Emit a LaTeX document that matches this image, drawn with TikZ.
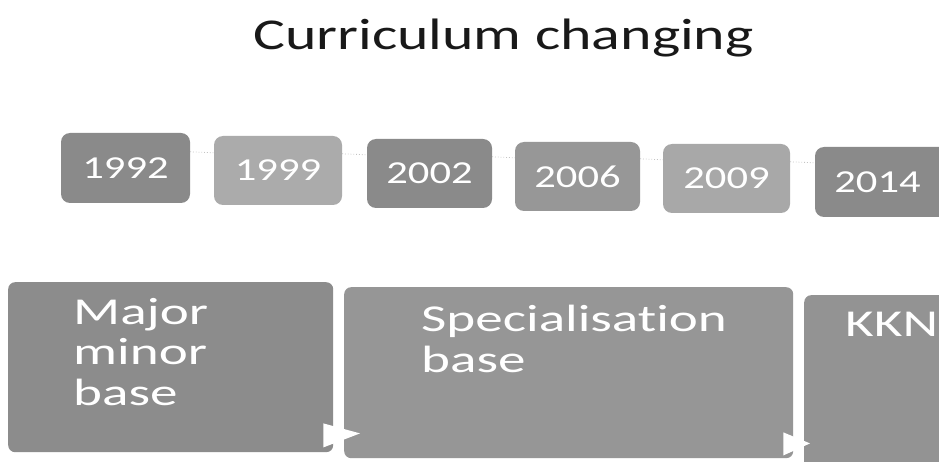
\documentclass[tikz,border=0pt]{standalone}
\usepackage{fontspec}
\setmainfont{Carlito}[Ligatures=CommonOff]
\usepackage{graphicx}
\usetikzlibrary{calc}
\newcommand\widetxt[1]{\scalebox{1.33}[1]{#1}}
\newcommand\widephase[1]{\scalebox{1.45}[1]{#1}}
\definecolor{yeardark}{HTML}{8A8A8A}
\definecolor{yearmid}{HTML}{979797}
\definecolor{yearlight}{HTML}{ABABAB}
\definecolor{phasegray}{HTML}{939393}
\definecolor{linkgray}{HTML}{C4C4C4}
\tikzset{
  yearbox/.style={rounded corners=9pt, inner sep=0pt, text=white, font=\fontsize{32}{36}\selectfont},
  phasebox/.style={rounded corners=7pt, inner sep=0pt, anchor=north west},
  phasetext/.style={text=white, font=\fontsize{38}{40.5}\selectfont, align=left, inner sep=0pt, anchor=north west},
  link/.style={draw=linkgray, dotted, line width=0.8pt},
}
\begin{document}
\begin{tikzpicture}[x=1pt,y=-1pt]
\useasboundingbox (0,0) rectangle (939,462);
\fill[white] (0,0) rectangle (939,462);
% title
\node[font=\fontsize{44}{48}\selectfont, text=black!90, inner sep=0pt] (title) at (503.5,38) {\scalebox{1.36}[1]{Curriculum changing}};
% year boxes
\node[yearbox, fill=yeardark, minimum width=129pt, minimum height=70pt] (y1992) at (125.5,168) {\widetxt{1992}};
\node[yearbox, fill=yearlight, minimum width=128pt, minimum height=69pt] (y1999) at (278,170.5) {\widetxt{1999}};
\node[yearbox, fill=yeardark, minimum width=125pt, minimum height=69pt] (y2002) at (429.5,173.5) {\widetxt{2002}};
\node[yearbox, fill=yearmid, minimum width=125pt, minimum height=69pt] (y2006) at (577.5,176.5) {\widetxt{2006}};
\node[yearbox, fill=yearlight!85!yearmid, minimum width=127pt, minimum height=69pt] (y2009) at (726.5,178.5) {\widetxt{2009}};
\node[yearbox, fill=yeardark, minimum width=135pt, minimum height=70pt] (y2014) at (882.5,182) {\hspace*{-10pt}\widetxt{2014}};
% dotted links
\draw[link] ($(y1992.north east)+(0,19)$) -- ($(y1999.north west)+(0,17)$);
\draw[link] ($(y1999.north east)+(0,18)$) -- ($(y2002.north west)+(0,16)$);
\draw[link] ($(y2002.north east)+(0,18)$) -- ($(y2006.north west)+(0,16)$);
\draw[link] ($(y2006.north east)+(0,17)$) -- ($(y2009.north west)+(0,16)$);
\draw[link] ($(y2009.north east)+(0,18)$) -- ($(y2014.north west)+(0,16)$);
% phase boxes
\node[phasebox, fill=phasegray!95!black, minimum width=325pt, minimum height=170pt] (p1) at (8,282) {};
\node[phasebox, fill=phasegray!97!white, minimum width=449pt, minimum height=171pt] (p2) at (344,287) {};
\node[phasebox, fill=phasegray, minimum width=145pt, minimum height=175pt] (p3) at (804,295) {};
\node[phasetext] (major) at (73,298) {\widephase{Major}\\\widephase{minor}\\\widephase{base}};
\node[phasetext] (spec) at (421,305) {\widephase{Specialisation}\\\widephase{base}};
\node[phasetext] (kkn) at (845,312) {\widephase{KKN}};
% white arrow heads between phases
\fill[white] ($(p1.south east)+(-10,-29)$) -- ($(p2.south west)+(16,-25)$) -- ($(p1.south east)+(-10,-5)$) -- cycle;
\fill[white] ($(p2.south east)+(-10,-26)$) -- ($(p3.south west)+(6,-27)$) -- ($(p2.south east)+(-10,-3)$) -- cycle;
\end{tikzpicture}
\end{document}
